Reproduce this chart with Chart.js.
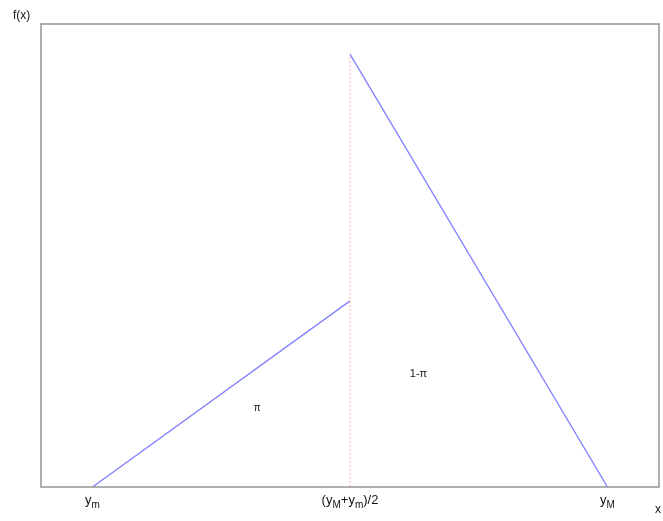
<!DOCTYPE html>
<html>
<head>
<meta charset="UTF-8">
<title>f(x)</title>
<style>
    body { margin: 0; background: #fff; }
    #chart { display: block; }
</style>
</head>
<body>
<canvas id="chart" width="663" height="521"></canvas>
<script src="https://cdn.jsdelivr.net/npm/chart.js"></script>
<script>
// x: y_m = 0, (y_M+y_m)/2 = 0.5, y_M = 1
const leftX = [0, 0.5];
const leftY = [0, 0.402];
const rightX = [0.5, 1];
const rightY = [0.935, 0];
const splitX = [0.5, 0.5];
const splitY = [0, 0.935];

// tick labels: [text, isSubscript] pieces
const tickValues = [0, 0.5, 1];
const tickLabels = [
    [['y', 0], ['m', 1]],
    [['(y', 0], ['M', 1], ['+y', 0], ['m', 1], [')/2', 0]],
    [['y', 0], ['M', 1]]
];

const areaLabels = ['\u03c0', '1-\u03c0'];
const areaX = [0.32, 0.633];
const areaY = [0.171, 0.244];

function pts(xs, ys) {
    return xs.map((x, i) => ({ x: x, y: ys[i] }));
}

const decorations = {
    id: 'decorations',
    afterDraw(chart) {
        const c = chart.ctx;
        const a = chart.chartArea;
        const sx = chart.scales.x, sy = chart.scales.y;
        c.save();
        // frame
        c.strokeStyle = '#9a9a9a';
        c.lineWidth = 1.6;
        c.strokeRect(a.left, a.top, a.right - a.left, a.bottom - a.top);

        c.fillStyle = '#111';
        c.textBaseline = 'alphabetic';
        // axis names
        c.font = '12px "Liberation Sans", Arial, sans-serif';
        c.textAlign = 'left';
        c.fillText('f(x)', a.left - 28, a.top - 5);
        c.fillText('x', a.right - 4, a.bottom + 26);

        // tick labels with subscripts
        const fonts = ['13px "Liberation Sans", Arial, sans-serif', '10px "Liberation Sans", Arial, sans-serif'];
        tickValues.forEach((v, i) => {
            const parts = tickLabels[i];
            let w = 0;
            parts.forEach(p => { c.font = fonts[p[1]]; w += c.measureText(p[0]).width; });
            let px = sx.getPixelForValue(v) - w / 2;
            const base = a.bottom + 17;
            parts.forEach(p => {
                c.font = fonts[p[1]];
                c.fillText(p[0], px, base + (p[1] ? 4 : 0));
                px += c.measureText(p[0]).width;
            });
        });

        // area labels
        c.textAlign = 'center';
        c.textBaseline = 'middle';
        areaLabels.forEach((t, i) => {
            c.font = (i === 0 ? '10px' : '11px') + ' "Liberation Sans", Arial, sans-serif';
            c.fillText(t, sx.getPixelForValue(areaX[i]), sy.getPixelForValue(areaY[i]));
        });
        c.restore();
    }
};

new Chart(document.getElementById('chart'), {
    type: 'scatter',
    data: {
        datasets: [
            {
                data: pts(splitX, splitY),
                showLine: true,
                borderColor: '#ffaaaa',
                borderWidth: 1,
                borderDash: [2, 2],
                pointRadius: 0
            },
            {
                data: pts(leftX, leftY),
                showLine: true,
                borderColor: '#8080ff',
                borderWidth: 1.3,
                pointRadius: 0
            },
            {
                data: pts(rightX, rightY),
                showLine: true,
                borderColor: '#8080ff',
                borderWidth: 1.3,
                pointRadius: 0
            }
        ]
    },
    options: {
        responsive: false,
        animation: false,
        layout: { padding: { left: 41, top: 24, right: 4, bottom: 34 } },
        plugins: { legend: { display: false }, tooltip: { enabled: false } },
        scales: {
            x: { type: 'linear', display: false, min: -0.1, max: 1.1 },
            y: { type: 'linear', display: false, min: 0, max: 1 }
        }
    },
    plugins: [decorations]
});
</script>
</body>
</html>
